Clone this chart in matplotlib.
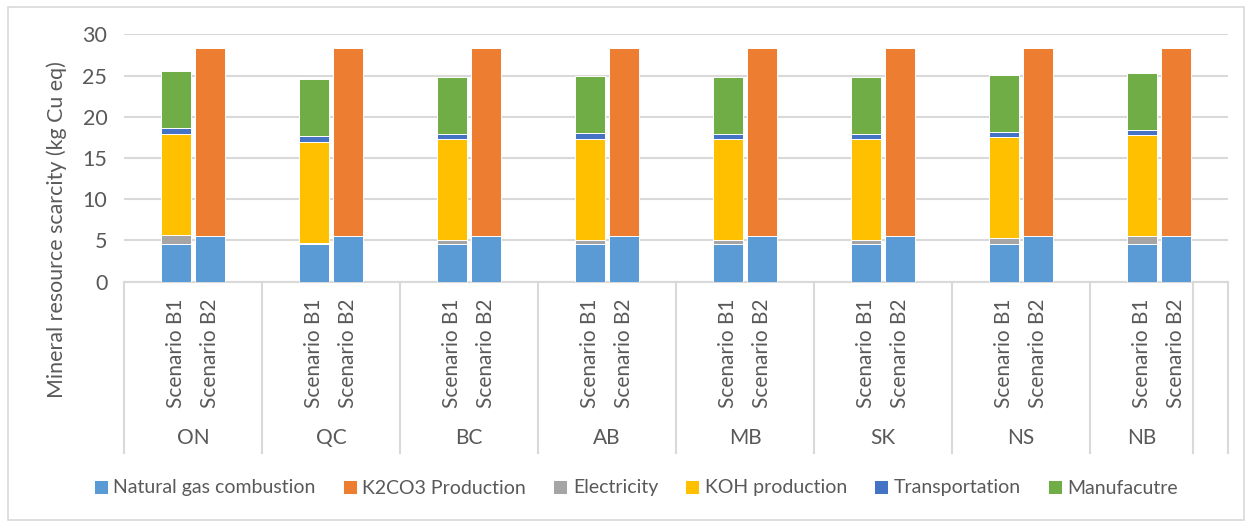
import numpy as np
import matplotlib
matplotlib.use("Agg")
import matplotlib.pyplot as plt
from matplotlib.patches import Rectangle

plt.rcParams['font.family'] = ['Lato', 'DejaVu Sans']

provinces = ["ON", "QC", "BC", "AB", "MB", "SK", "NS", "NB"]
scenarios = ["Scenario B1", "Scenario B2"]
series = ["Natural gas combustion", "K2CO3 Production", "Electricity",
          "KOH production", "Transportation", "Manufacutre"]
colors = ["#5B9BD5", "#ED7D31", "#A5A5A5", "#FFC000", "#4472C4", "#70AD47"]

# values per province, scenario B1 and B2
gas_b1 = [4.62, 4.62, 4.62, 4.62, 4.62, 4.62, 4.62, 4.62]
gas_b2 = [5.52, 5.52, 5.52, 5.52, 5.52, 5.52, 5.52, 5.52]
k2co3_b1 = [0, 0, 0, 0, 0, 0, 0, 0]
k2co3_b2 = [22.78, 22.78, 22.78, 22.78, 22.78, 22.78, 22.78, 22.78]
elec_b1 = [1.10, 0.13, 0.45, 0.45, 0.45, 0.45, 0.66, 0.90]
elec_b2 = [0, 0, 0, 0, 0, 0, 0, 0]
koh_b1 = [12.25, 12.25, 12.22, 12.25, 12.20, 12.22, 12.22, 12.22]
koh_b2 = [0, 0, 0, 0, 0, 0, 0, 0]
trans_b1 = [0.65, 0.65, 0.66, 0.67, 0.65, 0.66, 0.65, 0.65]
trans_b2 = [0, 0, 0, 0, 0, 0, 0, 0]
manuf_b1 = [6.90, 6.90, 6.92, 6.90, 6.95, 6.92, 6.90, 6.90]
manuf_b2 = [0, 0, 0, 0, 0, 0, 0, 0]

b1 = [gas_b1, k2co3_b1, elec_b1, koh_b1, trans_b1, manuf_b1]
b2 = [gas_b2, k2co3_b2, elec_b2, koh_b2, trans_b2, manuf_b2]

txt = "#595959"
grid = "#D9D9D9"

fig = plt.figure(figsize=(12.51, 5.23), dpi=100)
ax = fig.add_axes([0.0991, 0.4614, 0.8825, 0.4730])

# category slots: blank, B1, B2, blank per province (last group shorter + one empty slot)
x1 = np.arange(len(provinces)) * 4 + 1
x2 = x1 + 1
w = 0.88

bot1 = np.zeros(len(provinces))
bot2 = np.zeros(len(provinces))
for i, name in enumerate(series):
    v1 = np.array(b1[i])
    v2 = np.array(b2[i])
    ax.bar(x1, v1, w, bottom=bot1, color=colors[i], edgecolor="white", linewidth=0.7, label=name, zorder=3)
    ax.bar(x2, v2, w, bottom=bot2, color=colors[i], edgecolor="white", linewidth=0.7, zorder=3)
    bot1 += v1
    bot2 += v2

ax.set_xlim(-0.5, 31.5)
ax.set_ylim(0, 30)
ax.set_yticks(np.arange(0, 31, 5))
ax.yaxis.grid(True, color=grid, linewidth=1.5, zorder=0)
ax.tick_params(axis="y", length=0, labelsize=15.5, labelcolor=txt, pad=12)
ax.set_xticks([])
for s in ["top", "right", "left"]:
    ax.spines[s].set_visible(False)
ax.spines["bottom"].set_color(grid)
ax.spines["bottom"].set_linewidth(1.5)

fig.text(57 / 1251, 1 - 230 / 523, "Mineral resource scarcity (kg Cu eq)", rotation=90,
         ha="center", va="center", fontsize=15.4, color=txt)

# multi-level category axis
trans = ax.get_xaxis_transform()
seps = list(np.arange(len(provinces)) * 4 - 0.5) + [30.5, 31.5]
for s in seps:
    ax.plot([s, s], [0, -0.692], transform=trans, color=grid, linewidth=1.5, clip_on=False)
for i in range(len(provinces)):
    for xx, lab in zip([x1[i], x2[i]], scenarios):
        ax.text(xx, -0.068, lab, transform=trans, rotation=90, ha="center", va="top",
                fontsize=15, color=txt)
    ax.text((seps[i] + seps[i + 1]) / 2, -0.63, provinces[i], transform=trans,
            ha="center", va="center", fontsize=15, color=txt)

fig.legend(*ax.get_legend_handles_labels(), loc="center", bbox_to_anchor=(636 / 1251, 1 - 488 / 523),
           ncol=6, frameon=False, fontsize=14, labelcolor=txt, handlelength=0.7, handleheight=0.7,
           handletextpad=0.3, columnspacing=1.4)

fig.patches.append(Rectangle((8 / 1251, 3 / 523), 1236 / 1251, 513 / 523, transform=fig.transFigure,
                             fill=False, edgecolor=grid, linewidth=1.2))

fig.savefig("out.png", dpi=100)
